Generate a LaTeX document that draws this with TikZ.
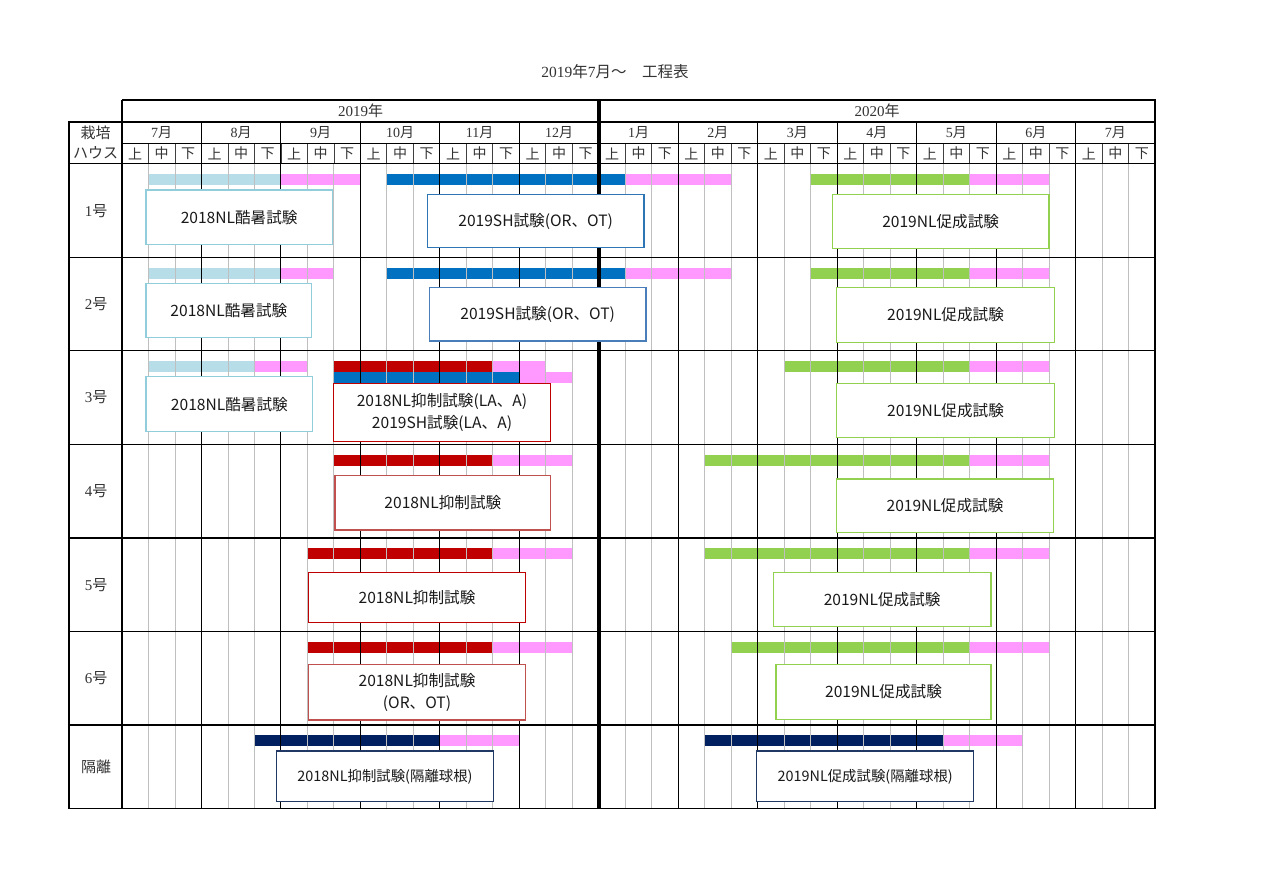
\documentclass[tikz,border=0pt]{standalone}
\usepackage{fontspec}
\setmainfont{Liberation Serif}
\newfontfamily\jp{Noto Sans CJK JP}
\definecolor{cLB}{HTML}{B7DEE8}
\definecolor{cPK}{HTML}{FF99FF}
\definecolor{cBL}{HTML}{0070C0}
\definecolor{cGR}{HTML}{92D050}
\definecolor{cRD}{HTML}{C00000}
\definecolor{cNV}{HTML}{002060}
\definecolor{bLB}{HTML}{92CDDC}
\definecolor{bBL}{HTML}{2E75B6}
\definecolor{bBL2}{HTML}{4A7EBB}
\definecolor{bGR}{HTML}{92D050}
\definecolor{bRD}{HTML}{C00000}
\definecolor{bRD2}{HTML}{C0504D}
\definecolor{bNV}{HTML}{1F3864}
\definecolor{gridg}{HTML}{BFBFBF}
\begin{document}
\begin{tikzpicture}[x=1pt,y=-1pt,
  hdr/.style={inner sep=0pt, text=black!80, font=\fontsize{14}{16}\selectfont},
  yhdr/.style={hdr, font=\fontsize{15}{16}\selectfont},
  rowlab/.style={inner sep=0pt, text=black!80, font=\fontsize{15}{16}\selectfont},
  boxn/.style={fill=white, line width=1.1pt, inner sep=0pt, align=center, text=black!90,
    font=\jp\fontsize{15.6}{22}\selectfont},
  boxs/.style={boxn, font=\jp\fontsize{14.4}{20}\selectfont},
  grid/.style={gridg, line width=0.9pt},
  mline/.style={black, line width=1.1pt},
  hline/.style={black!75, line width=0.8pt},
  thick/.style={black, line width=3.6pt}]
\useasboundingbox (0,0) rectangle (1278,883);
\fill[white] (0,0) rectangle (1278,883);
\def\cw{26.4872}
\newcommand\gb[4]{\fill[#1] ({122+#2*\cw},#4) rectangle ({122+#3*\cw},{#4+11});}
\newcommand\tbox[8]{\node[#8, draw=#6, minimum width={#4-#2}, minimum height={#5-#3}] (#1) at ({(#2+#4)/2},{(#3+#5)/2}) {#7};}

% ---- bars (under grid lines)
% 1
\gb{cLB}{1}{6}{174} \gb{cPK}{6}{9}{174}
\gb{cBL}{10}{19}{174} \gb{cPK}{19}{23}{174}
\gb{cGR}{26}{32}{174} \gb{cPK}{32}{35}{174}
% 2
\gb{cLB}{1}{6}{267.5} \gb{cPK}{6}{8}{267.5}
\gb{cBL}{10}{19}{267.5} \gb{cPK}{19}{23}{267.5}
\gb{cGR}{26}{32}{267.5} \gb{cPK}{32}{35}{267.5}
% 3
\gb{cLB}{1}{5}{361} \gb{cPK}{5}{7}{361}
\gb{cRD}{8}{14}{361} \gb{cPK}{14}{16}{361}
\gb{cBL}{8}{15}{372} \gb{cPK}{15}{17}{372}
\gb{cGR}{25}{32}{361} \gb{cPK}{32}{35}{361}
% 4
\gb{cRD}{8}{14}{454.5} \gb{cPK}{14}{17}{454.5}
\gb{cGR}{22}{32}{454.5} \gb{cPK}{32}{35}{454.5}
% 5
\gb{cRD}{7}{14}{548} \gb{cPK}{14}{17}{548}
\gb{cGR}{22}{32}{548} \gb{cPK}{32}{35}{548}
% 6
\gb{cRD}{7}{14}{641.5} \gb{cPK}{14}{17}{641.5}
\gb{cGR}{23}{32}{641.5} \gb{cPK}{32}{35}{641.5}
% isolation
\gb{cNV}{5}{12}{735} \gb{cPK}{12}{15}{735}
\gb{cNV}{22}{31}{735} \gb{cPK}{31}{34}{735}

% ---- grid
\foreach \k in {1,...,38} {
  \draw[grid] ({122+\k*\cw},163.5) -- ({122+\k*\cw},808.5);
  \draw[hline] ({122+\k*\cw},143.5) -- ({122+\k*\cw},163.5);
}
\foreach \k in {3,6,9,12,15,21,24,27,30,33,36} {
  \draw[mline] ({122+\k*\cw},122) -- ({122+\k*\cw},808.5);
}
\foreach \y in {257.2,350.8,444.5,538,631.5,725} {
  \draw[mline] (69,\y) -- (1155,\y);
}
\draw[mline] (69,122) -- (1155,122);
\draw[mline] (122,143.5) -- (1155,143.5);
\draw[mline] (69,163.5) -- (1155,163.5);
\draw[mline, line width=1.3pt] (122,100) -- (1155,100) -- (1155,808.5) -- (69,808.5) -- (69,122) -- (122,122);
\draw[mline, line width=1.3pt] (122,100) -- (122,808.5);
\draw[thick] (599,100) -- (599,808.5);

% ---- header texts
\node[yhdr, font=\fontsize{15.5}{16}\selectfont] (title) at (615,72) {2019{\jp 年}7{\jp 月～}\hspace{1.0em}{\jp 工程表}};
\node[yhdr] (y19) at (360.5,111) {2019{\jp 年}};
\node[yhdr] (y20) at (877,111) {2020{\jp 年}};
\node[yhdr] (hA) at (95.5,132.5) {\jp 栽培};
\node[yhdr] (hB) at (95.5,153) {\jp ハウス};
\foreach \m [count=\i from 0] in {7,8,9,10,11,12,1,2,3,4,5,6,7} {
  \node[hdr] (m\i) at ({122+(3*\i+1.5)*\cw},133) {\m{\jp 月}};
}
\foreach \i in {0,...,12} {
  \node[hdr] (d\i a) at ({122+(3*\i+0.5)*\cw},153.5) {\jp 上};
  \node[hdr] (d\i b) at ({122+(3*\i+1.5)*\cw},153.5) {\jp 中};
  \node[hdr] (d\i c) at ({122+(3*\i+2.5)*\cw},153.5) {\jp 下};
}
% row labels
\node[rowlab] (r1) at (96,211) {1{\jp 号}};
\node[rowlab] (r2) at (96,304) {2{\jp 号}};
\node[rowlab] (r3) at (96,397) {3{\jp 号}};
\node[rowlab] (r4) at (96,491) {4{\jp 号}};
\node[rowlab] (r5) at (96,585) {5{\jp 号}};
\node[rowlab] (r6) at (96,678) {6{\jp 号}};
\node[rowlab] (r7) at (96,767) {\jp 隔離};

% ---- boxes
\tbox{a1}{146}{190}{332.3}{244.3}{bLB}{2018NL酷暑試験}{boxn}
\tbox{b1}{427.3}{194.3}{644}{247.7}{bBL}{2019SH試験(OR、OT)}{boxn}
\tbox{c1}{832.3}{194.3}{1049}{248.3}{bGR}{2019NL促成試験}{boxn}
\tbox{a2}{146}{283.3}{311.7}{337.7}{bLB}{2018NL酷暑試験}{boxn}
\tbox{b2}{429.3}{287.7}{646}{341}{bBL2}{2019SH試験(OR、OT)}{boxn}
\tbox{c2}{836.7}{287.7}{1054.3}{342.3}{bGR}{2019NL促成試験}{boxn}
\tbox{a3}{146}{376.7}{312.7}{431.7}{bLB}{2018NL酷暑試験}{boxn}
\tbox{d3}{333.3}{383.3}{550.7}{441.7}{bRD}{2018NL抑制試験(LA、A)\\2019SH試験(LA、A)}{boxn}
\tbox{c3}{836.7}{383.3}{1054.3}{437.3}{bGR}{2019NL促成試験}{boxn}
\tbox{d4}{335}{475.7}{550.7}{530}{bRD2}{2018NL抑制試験}{boxn}
\tbox{c4}{836.7}{479}{1053.3}{532.7}{bGR}{2019NL促成試験}{boxn}
\tbox{d5}{308.3}{572.3}{525.7}{622.7}{bRD}{2018NL抑制試験}{boxn}
\tbox{c5}{773.3}{572.3}{991}{626.7}{bGR}{2019NL促成試験}{boxn}
\tbox{d6}{308.3}{664.3}{525.7}{720}{bRD2}{2018NL抑制試験\\(OR、OT)}{boxn}
\tbox{c6}{776}{664.3}{991}{719.3}{bGR}{2019NL促成試験}{boxn}
\tbox{e7}{276.7}{751}{493.3}{801.7}{bNV}{2018NL抑制試験(隔離球根)}{boxs}
\tbox{f7}{756.7}{751}{973.7}{801.7}{bNV}{2019NL促成試験(隔離球根)}{boxs}
\end{tikzpicture}
\end{document}
